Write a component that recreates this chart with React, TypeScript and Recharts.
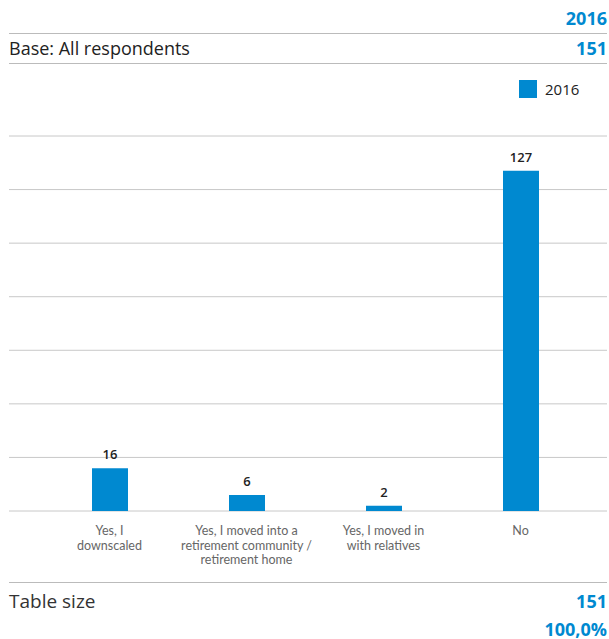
import React from 'react';
import { BarChart, Bar, XAxis, YAxis, CartesianGrid, LabelList } from 'recharts';

const categories = [
  'Yes, I\ndownscaled',
  'Yes, I moved into a\nretirement community /\nretirement home',
  'Yes, I moved in\nwith relatives',
  'No',
];
const values2016 = [16, 6, 2, 127];
const yTicks = [0, 20, 40, 60, 80, 100, 120, 140];
const seriesName = '2016';

const BLUE = '#0089D0';
const FONT = '"Open Sans", "Noto Sans", sans-serif';

const data = categories.map((name, i) => ({ name, y2016: values2016[i] }));

const CategoryTick = ({ x, y, payload }: any) => {
  const lines = String(payload.value).split('\n');
  return (
    <g>
      {lines.map((line, i) => (
        <text
          key={i}
          x={x}
          y={y + 16 + i * 14.6}
          textAnchor="middle"
          fill="#666"
          fontSize={12.5}
          fontFamily="Lato, sans-serif"
        >
          {line}
        </text>
      ))}
    </g>
  );
};

const row: React.CSSProperties = {
  position: 'absolute',
  left: 9,
  width: 598,
  display: 'flex',
  justifyContent: 'space-between',
  alignItems: 'center',
  fontFamily: FONT,
  lineHeight: 1,
};

const rule = (top: number): React.CSSProperties => ({
  position: 'absolute',
  left: 9,
  top,
  width: 598,
  height: 1,
  background: '#bbb',
});

export default function App() {
  return (
    <div style={{ position: 'absolute', left: 0, top: 0, width: 609, height: 639, background: '#fff', overflow: 'hidden' }}>
      <div style={{ ...row, top: 8, height: 20, justifyContent: 'flex-end' }}>
        <span style={{ color: BLUE, fontWeight: 700, fontSize: 18 }}>2016</span>
      </div>
      <div style={rule(33)} />
      <div style={{ ...row, top: 38, height: 20 }}>
        <span style={{ color: '#222', fontWeight: 500, fontSize: 18 }}>Base: All respondents</span>
        <span style={{ color: BLUE, fontWeight: 700, fontSize: 18 }}>151</span>
      </div>
      <div style={rule(63)} />

      <div
        style={{
          position: 'absolute',
          left: 519,
          top: 80,
          display: 'flex',
          alignItems: 'center',
          fontFamily: FONT,
          fontSize: 15,
          color: '#222',
          lineHeight: 1,
        }}
      >
        <span style={{ width: 18, height: 18, background: BLUE, display: 'inline-block', marginRight: 8 }} />
        {seriesName}
      </div>

      <div style={{ position: 'absolute', left: 0, top: 0 }}>
        <BarChart
          width={609}
          height={639}
          data={data}
          margin={{ top: 136, right: 2, bottom: 68, left: 9 }}
        >
          <CartesianGrid vertical={false} stroke="#c8c8c8" />
          <XAxis
            dataKey="name"
            height={60}
            axisLine={false}
            tickLine={false}
            interval={0}
            padding={{ left: 32, right: 18 }}
            tick={<CategoryTick />}
          />
          <YAxis hide domain={[0, 140]} ticks={yTicks} />
          <Bar dataKey="y2016" name={seriesName} fill={BLUE} barSize={36} isAnimationActive={false}>
            <LabelList
              dataKey="y2016"
              position="top"
              offset={9}
              fill="#222"
              fontSize={13}
              fontWeight={600}
              fontFamily={FONT}
            />
          </Bar>
        </BarChart>
      </div>

      <div style={rule(582)} />
      <div style={{ ...row, top: 591, height: 20 }}>
        <span style={{ color: '#333', fontWeight: 400, fontSize: 19 }}>Table size</span>
        <span style={{ color: BLUE, fontWeight: 700, fontSize: 18 }}>151</span>
      </div>
      <div style={{ ...row, top: 619, height: 19, justifyContent: 'flex-end' }}>
        <span style={{ color: BLUE, fontWeight: 700, fontSize: 18 }}>100,0%</span>
      </div>
    </div>
  );
}
